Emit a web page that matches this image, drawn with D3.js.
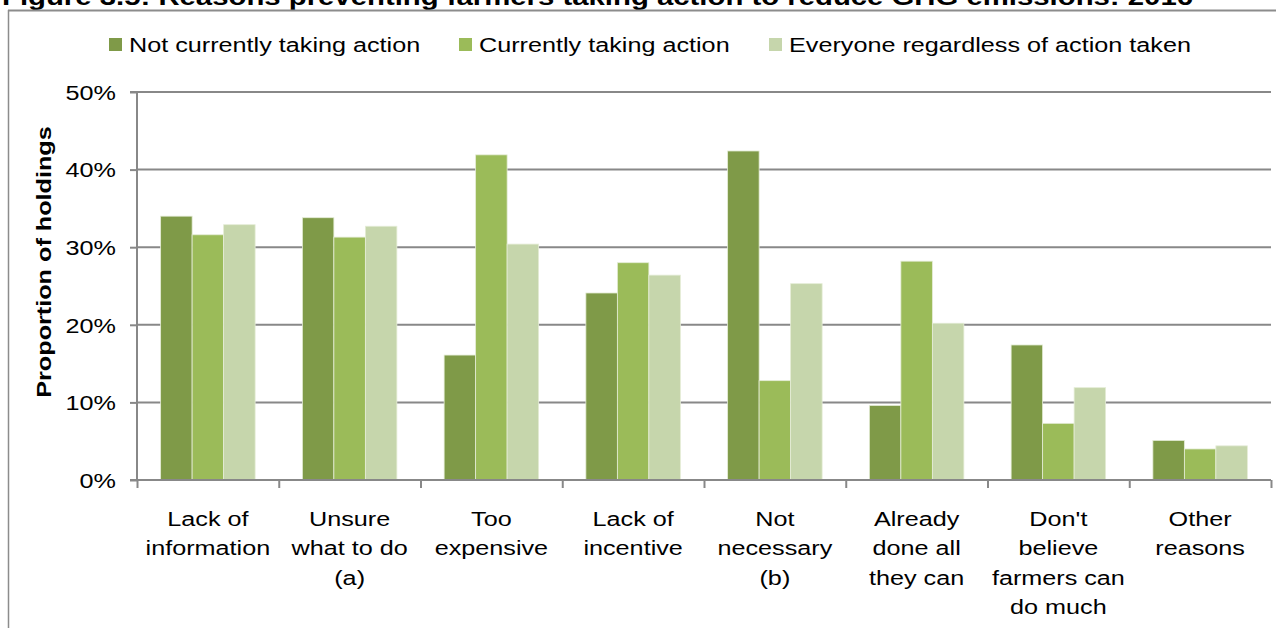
<!DOCTYPE html>
<html><head><meta charset="utf-8">
<script src="https://cdn.jsdelivr.net/npm/d3@7"></script>
<style>html,body{margin:0;padding:0;background:#fff;}svg{display:block;font-family:"Liberation Sans",Arial,sans-serif;}</style>
</head><body>
<svg id="chart" width="1276" height="628"></svg>
<script>
const title = "Figure 3.5: Reasons preventing farmers taking action to reduce GHG emissions: 2016";
const categories = [
  ["Lack of","information"],
  ["Unsure","what to do","(a)"],
  ["Too","expensive"],
  ["Lack of","incentive"],
  ["Not","necessary","(b)"],
  ["Already","done all","they can"],
  ["Don't","believe","farmers can","do much"],
  ["Other","reasons"]
];
const seriesNames = ["Not currently taking action","Currently taking action","Everyone regardless of action taken"];
const notTaking = [34.0, 33.8, 16.1, 24.1, 42.4, 9.6, 17.4, 5.1];
const taking    = [31.6, 31.3, 41.9, 28.0, 12.8, 28.2, 7.3, 4.0];
const everyone  = [32.9, 32.7, 30.4, 26.4, 25.3, 20.2, 11.9, 4.4];
const yTicks = [0,10,20,30,40,50];
const colors = ["#7f9a48","#9bbb59","#c6d6ac"];

const series = [notTaking, taking, everyone];
const svg = d3.select("#chart");
const mLeft = 137, mRight = 1271, mTop = 92, mBottom = 480;
const FS = 21, SX = 1.2;

const x = d3.scaleBand().domain(d3.range(categories.length)).range([mLeft,mRight]).paddingInner(0).paddingOuter(0);
const xs = d3.scaleBand().domain(d3.range(series.length)).range([0,x.bandwidth()]).paddingInner(0).paddingOuter(0.75);
const y = d3.scaleLinear().domain([0,50]).range([mBottom,mTop]);

// title (clipped at top)
svg.append("text").attr("x",2).attr("y",5).attr("font-size",24).attr("font-weight","bold").attr("fill","#000")
  .attr("textLength",1191).attr("lengthAdjust","spacingAndGlyphs").text(title);

// frame
svg.append("line").attr("x1",8).attr("x2",1276).attr("y1",10.5).attr("y2",10.5).attr("stroke","#8c8c8c").attr("stroke-width",2);
svg.append("line").attr("x1",8.5).attr("x2",8.5).attr("y1",10).attr("y2",628).attr("stroke","#8c8c8c").attr("stroke-width",1.5);

// gridlines
svg.append("g").selectAll("line").data(yTicks.filter(d=>d>0)).join("line")
  .attr("x1",mLeft).attr("x2",mRight).attr("y1",d=>y(d)).attr("y2",d=>y(d))
  .attr("stroke","#888").attr("stroke-width",2);

// bars
const g = svg.append("g");
series.forEach((s,si)=>{
  g.append("g").selectAll("rect").data(s).join("rect")
    .attr("x",(d,i)=>x(i)+xs(si))
    .attr("width",xs.bandwidth())
    .attr("y",d=>y(d))
    .attr("height",d=>y(0)-y(d))
    .attr("fill",colors[si])
    .attr("stroke","#e4ecd6").attr("stroke-width",0.8);
});

// y axis
const yAxis = d3.axisLeft(y).tickValues(yTicks).tickFormat(d=>d+"%").tickSize(7).tickPadding(14);
const yg = svg.append("g").attr("transform",`translate(${mLeft},0)`).call(yAxis);
yg.select(".domain").attr("stroke","#888").attr("stroke-width",2).attr("d",`M-7,${mTop}H0V${mBottom}H-7`);
yg.selectAll(".tick line").attr("stroke","#888").attr("stroke-width",2);
yg.selectAll(".tick text").attr("font-size",FS).attr("fill","#000").attr("font-family","Liberation Sans, Arial, sans-serif")
  .attr("dy","0.35em").attr("x",-21/SX).attr("transform",`scale(${SX},1)`);

// x axis
const xAxis = d3.axisBottom(d3.scaleLinear().domain([0,categories.length]).range([mLeft,mRight])).tickValues(d3.range(categories.length+1)).tickSize(8).tickFormat("");
const xg = svg.append("g").attr("transform",`translate(0,${mBottom})`).call(xAxis);
xg.select(".domain").attr("stroke","#888").attr("stroke-width",2).attr("d",`M${mLeft},0H${mRight}`);
xg.selectAll(".tick line").attr("stroke","#888").attr("stroke-width",2);

// category labels
const lab = svg.append("g").selectAll("text").data(categories).join("text")
  .attr("text-anchor","middle").attr("font-size",FS).attr("fill","#000")
  .attr("transform",(d,i)=>`translate(${x(i)+x.bandwidth()/2},526) scale(${SX},1)`);
lab.selectAll("tspan").data(d=>d).join("tspan").attr("x",0).attr("y",(d,i)=>i*29.5).text(d=>d);

// y title
svg.append("text").attr("transform",`translate(51,262) rotate(-90) scale(${SX},1)`).attr("text-anchor","middle")
  .attr("font-size",FS).attr("font-weight","bold").attr("fill","#000").text("Proportion of holdings");

// legend
const legX = [109, 459, 769];
const leg = svg.append("g").selectAll("g").data(seriesNames).join("g").attr("transform",(d,i)=>`translate(${legX[i]},0)`);
leg.append("rect").attr("x",0).attr("y",38).attr("width",13).attr("height",13).attr("fill",(d,i)=>colors[i]);
leg.append("text").attr("transform",`translate(20,52) scale(${SX},1)`).attr("font-size",FS).attr("fill","#000").text(d=>d);
</script>
</body></html>
